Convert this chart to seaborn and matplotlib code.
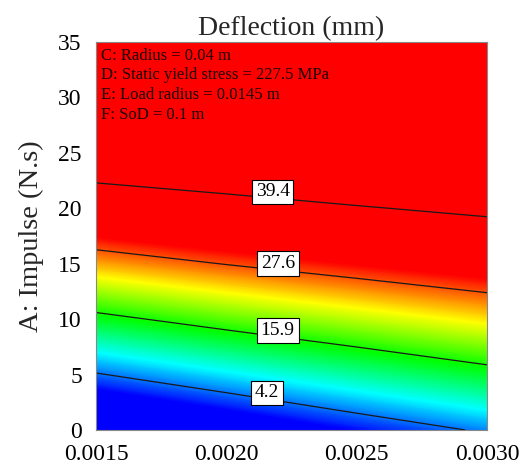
import matplotlib

matplotlib.use("Agg")
import matplotlib.pyplot as plt
import numpy as np
import seaborn as sns
from matplotlib.colors import LinearSegmentedColormap, Normalize

# Factor B on the x axis, A: Impulse on the y axis
b_values = [0.0015, 0.0020, 0.0025, 0.0030]
impulse = [0, 5, 10, 15, 20, 25, 30, 35]

defl_b0015 = [-7.1, 3.9, 14.65, 25.1, 35.0, 44.6, 53.8, 62.8]
defl_b0020 = [-2.8, 7.6, 17.9, 27.75, 37.05, 46.1, 54.85, 63.45]
defl_b0025 = [1.2, 11.1, 20.75, 30.05, 38.97, 47.7, 56.2, 64.5]
defl_b0030 = [4.8, 14.3, 23.4, 32.2, 40.7, 49.1, 57.2, 65.2]

contour_levels = [4.2, 15.9, 27.6, 39.4]
xtick_labels = ["0.0015", "0.0020", "0.0025", "0.0030"]
fixed_factors = [
    "C: Radius = 0.04 m",
    "D: Static yield stress = 227.5 MPa",
    "E: Load radius = 0.0145 m",
    "F: SoD = 0.1 m",
]


def main():
    sns.set_theme(style="white")
    plt.rcParams["font.family"] = ["Liberation Serif", "DejaVu Serif"]

    X, Y = np.meshgrid(b_values, impulse)
    Z = np.column_stack([defl_b0015, defl_b0020, defl_b0025, defl_b0030])

    cmap = LinearSegmentedColormap.from_list(
        "de", ["#0000ff", "#00ffff", "#00ff00", "#ffff00", "#ff0000"]
    )
    cmap.set_under("#0000ff")
    cmap.set_over("#ff0000")
    norm = Normalize(vmin=1, vmax=30)

    fig = plt.figure(figsize=(5.2, 4.72), dpi=100)
    ax = fig.add_axes([0.1846, 0.089, 0.752, 0.822])

    ax.contourf(X, Y, Z, levels=np.linspace(1, 30, 240), cmap=cmap, norm=norm,
                extend="both", antialiased=False)
    cs = ax.contour(X, Y, Z, levels=contour_levels, colors="#1a1a1a", linewidths=0.9)

    label_spots = [(0.00216, 3.4), (0.0022, 9.0), (0.0022, 15.1), (0.00218, 21.6)]
    texts = ax.clabel(cs, fmt="%.1f", inline=False, fontsize=14, colors="black",
                      manual=label_spots)
    for t in texts:
        x, y = t.get_position()
        # boxes sit a little above the line in the original
        t.set_position((x, y + 0.55))
        t.set_rotation(0)
        t.set_bbox(dict(boxstyle="square,pad=0.2", facecolor="white",
                        edgecolor="black", linewidth=0.8))

    ax.text(0.012, 0.985, "\n".join(fixed_factors), transform=ax.transAxes,
            va="top", ha="left", fontsize=12, color="#1a0000", linespacing=1.3)

    ax.set_xlim(b_values[0], b_values[-1])
    ax.set_ylim(impulse[0], impulse[-1])
    ax.set_xticks(b_values)
    ax.set_xticklabels(xtick_labels)
    ax.set_yticks(impulse)
    ax.tick_params(axis="both", direction="out", length=7.2, width=0.8,
                   color="#888888", labelsize=17, pad=3, labelcolor="black")
    for sp in ax.spines.values():
        sp.set_color("#888888")
        sp.set_linewidth(0.8)

    ax.set_title("Deflection (mm)", fontsize=20, pad=5)
    ax.set_ylabel("A: Impulse (N.s)", fontsize=20.5, labelpad=10)

    fig.savefig("out.png", dpi=100)
    plt.close(fig)


if __name__ == "__main__":
    main()
